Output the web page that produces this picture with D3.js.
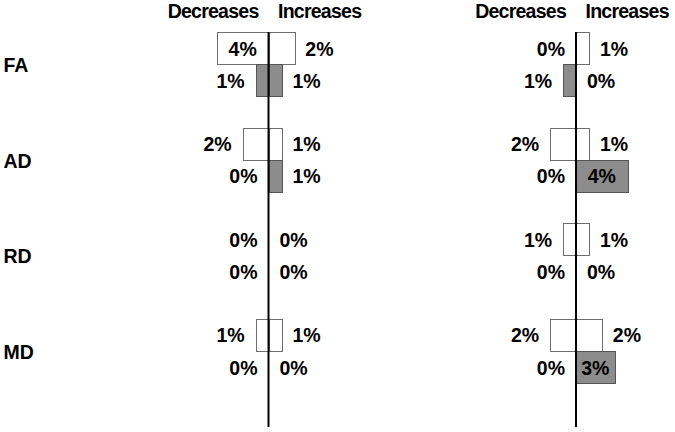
<!DOCTYPE html>
<html>
<head>
<meta charset="utf-8">
<script src="https://cdn.jsdelivr.net/npm/d3@7"></script>
<style>
  body { margin: 0; background: #fff; }
  svg text { font-family: 'Liberation Sans', Arial, sans-serif; font-weight: bold; fill: #000; }
</style>
</head>
<body>
<div class="dataviz"></div>
<script>
const categories = ['FA', 'AD', 'RD', 'MD']
const series = ['white', 'gray']

// left panel
const leftWhiteDec = [4, 2, 0, 1]
const leftWhiteInc = [2, 1, 0, 1]
const leftGrayDec = [1, 0, 0, 0]
const leftGrayInc = [1, 1, 0, 0]

// right panel
const rightWhiteDec = [0, 2, 1, 2]
const rightWhiteInc = [1, 1, 1, 2]
const rightGrayDec = [1, 0, 0, 0]
const rightGrayInc = [0, 4, 0, 3]

const headers = ['Decreases', 'Increases']

const width = 675
const height = 432
const fontSize = 19.5

const svg = d3.select('.dataviz').append('svg')
  .attr('width', width)
  .attr('height', height)

const yScale = d3.scaleBand()
  .domain(categories)
  .range([16.5, 398.9])
  .paddingInner(0.326)
  .paddingOuter(0.163)

const ySub = d3.scaleBand().domain(series).range([0, yScale.bandwidth()])

// category labels
svg.selectAll('.cat')
  .data(categories)
  .enter()
  .append('text')
  .attr('class', 'cat')
  .attr('x', 3.5)
  .attr('y', d => yScale(d) + yScale.bandwidth() / 2)
  .attr('dy', '0.4em')
  .style('font-size', `${fontSize}px`)
  .text(d => d)

const drawPanel = (center, whiteDec, whiteInc, grayDec, grayInc) => {
  const xScale = d3.scaleLinear().domain([-5, 5]).range([center - 64.5, center + 64.5])
  const g = svg.append('g')

  const rows = []
  categories.forEach((c, i) => {
    rows.push({ cat: c, s: 'white', side: -1, v: whiteDec[i] })
    rows.push({ cat: c, s: 'white', side: 1, v: whiteInc[i] })
    rows.push({ cat: c, s: 'gray', side: -1, v: grayDec[i] })
    rows.push({ cat: c, s: 'gray', side: 1, v: grayInc[i] })
  })

  g.selectAll('rect')
    .data(rows.filter(d => d.v > 0))
    .enter()
    .append('rect')
    .attr('x', d => Math.round(Math.min(xScale(0), xScale(d.side * d.v))) + 0.5)
    .attr('y', d => Math.round(yScale(d.cat) + ySub(d.s)) + 0.5)
    .attr('width', d => Math.round(Math.abs(xScale(d.side * d.v) - xScale(0))))
    .attr('height', Math.round(ySub.bandwidth()))
    .attr('fill', d => (d.s === 'white' ? '#fff' : '#8c8c8c'))
    .attr('stroke', d => (d.s === 'white' ? '#6e6e6e' : '#555'))
    .attr('stroke-width', 1)

  // labels: outside end, centred inside when they would leave the plot
  const gap = 11
  const labelW = 26
  const lo = xScale(-5.2)
  const hi = xScale(5.2)
  g.selectAll('.lbl')
    .data(rows)
    .enter()
    .append('text')
    .attr('class', 'lbl')
    .style('font-size', `${fontSize}px`)
    .attr('y', d => yScale(d.cat) + ySub(d.s) + ySub.bandwidth() / 2)
    .attr('dy', '0.38em')
    .each(function (d) {
      const end = xScale(d.side * d.v)
      const outside = end + d.side * (gap + labelW)
      const fits = outside > lo && outside < hi
      const t = d3.select(this)
      if (fits) {
        t.attr('x', end + d.side * gap).attr('text-anchor', d.side < 0 ? 'end' : 'start')
      } else {
        t.attr('x', (end + xScale(0)) / 2).attr('text-anchor', 'middle')
      }
    })
    .text(d => `${d.v}%`)

  // headers
  g.selectAll('.hdr')
    .data(headers)
    .enter()
    .append('text')
    .attr('class', 'hdr')
    .style('font-size', `${fontSize}px`)
    .style('letter-spacing', '-0.75px')
    .attr('x', (d, i) => xScale(0) + (i === 0 ? -10 : 9.5))
    .attr('y', 18)
    .attr('text-anchor', (d, i) => (i === 0 ? 'end' : 'start'))
    .text(d => d)

  // vertical axis
  g.append('line')
    .attr('x1', xScale(0))
    .attr('x2', xScale(0))
    .attr('y1', yScale(categories[0]))
    .attr('y2', 427)
    .attr('stroke', '#000')
    .attr('stroke-width', 2)
}

drawPanel(268.5, leftWhiteDec, leftWhiteInc, leftGrayDec, leftGrayInc)
drawPanel(576, rightWhiteDec, rightWhiteInc, rightGrayDec, rightGrayInc)
</script>
</body>
</html>
